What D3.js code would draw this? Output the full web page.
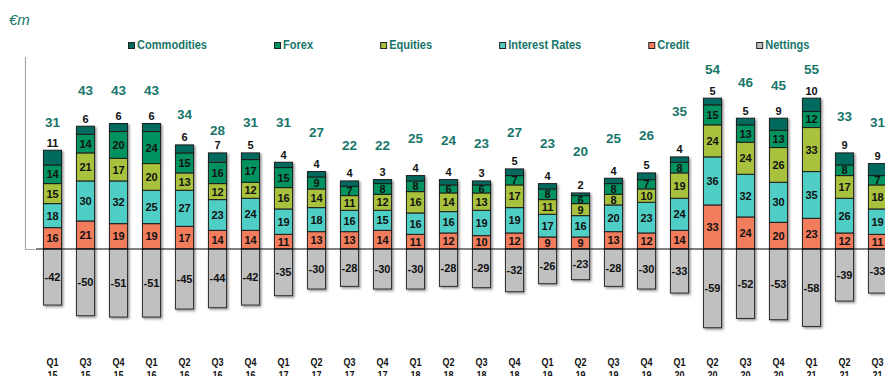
<!DOCTYPE html>
<html>
<head>
<meta charset="utf-8">
<script src="https://cdn.jsdelivr.net/npm/d3@7"></script>
<style>
  body { margin: 0; background: #fff; }
  svg { display: block; }
</style>
</head>
<body>
<svg id="chart" width="885" height="376"></svg>
<script>
// Quarterly trading revenue by asset class, €m
const categories = ["Q1 15","Q3 15","Q4 15","Q1 16","Q2 16","Q3 16","Q4 16","Q1 17","Q2 17","Q3 17","Q4 17","Q1 18","Q2 18","Q3 18","Q4 18","Q1 19","Q2 19","Q3 19","Q4 19","Q1 20","Q2 20","Q3 20","Q4 20","Q1 21","Q2 21","Q3 21"];
const credit        = [16,21,19,19,17,14,14,11,13,13,14,11,12,10,12, 9, 9,13,12,14,33,24,20,23,12,11];
const interestRates = [18,30,32,25,27,23,24,19,18,16,15,16,16,19,19,17,16,20,23,24,36,32,30,35,26,19];
const equities      = [15,21,17,20,13,12,12,16,14,11,12,16,14,13,17,11, 9, 8,10,19,24,24,26,33,17,18];
const forex         = [14,14,20,24,15,16,17,15, 9, 7, 8, 8, 6, 6, 7, 8, 6, 8, 7, 8,15,13,13,12, 8, 7];
const commodities   = [11, 6, 6, 6, 6, 7, 5, 4, 4, 4, 3, 4, 4, 3, 5, 4, 2, 4, 5, 4, 5, 5, 9,10, 9, 9];
const nettings      = [-42,-50,-51,-51,-45,-44,-42,-35,-30,-28,-30,-30,-28,-29,-32,-26,-23,-28,-30,-33,-59,-52,-53,-58,-39,-33];
const totals        = [31,43,43,43,34,28,31,31,27,22,22,25,24,23,27,23,20,25,26,35,54,46,45,55,33,31];

const seriesKeys = ["Credit","Interest Rates","Equities","Forex","Commodities"];
const legendKeys = ["Commodities","Forex","Equities","Interest Rates","Credit","Nettings"];

const colors = {
  "Commodities": "#006b5e",
  "Forex": "#00935f",
  "Equities": "#a8c23e",
  "Interest Rates": "#50cec5",
  "Credit": "#f27d5d",
  "Nettings": "#c0c0c0"
};
const teal = "#17766a";

const narrow = '"Liberation Sans Narrow","Arial Narrow",sans-serif';
const sans = '"Liberation Sans",Arial,Helvetica,sans-serif';

const svg = d3.select("#chart");

// If no condensed face is installed, squeeze the regular bold face instead.
const probe = svg.append("g").attr("font-weight", "bold").attr("font-size", 20);
const wN = probe.append("text").attr("font-family", narrow).text("Commodities").node().getComputedTextLength();
const wS = probe.append("text").attr("font-family", sans).text("Commodities").node().getComputedTextLength();
probe.remove();
const squeeze = wN / wS > 0.95 ? 0.82 : 1;

function condensedText(parent, px, py, str, size, fill) {
  const t = parent.append("text")
    .attr("transform", `translate(${px},${py}) scale(${squeeze},1)`)
    .attr("font-family", squeeze === 1 ? narrow : sans)
    .attr("font-weight", "bold").attr("font-size", size)
    .attr("fill", fill).text(str);
  return t;
}

// soft drop shadow under each stack
const defs = svg.append("defs");
const f = defs.append("filter").attr("id","shadow")
  .attr("x","-30%").attr("y","-10%").attr("width","160%").attr("height","120%");
f.append("feDropShadow").attr("dx",1.5).attr("dy",1.5).attr("stdDeviation",0.9)
  .attr("flood-color","#6f6f6f").attr("flood-opacity",0.75);

const rows = categories.map((c, i) => ({
  cat: c,
  "Credit": credit[i],
  "Interest Rates": interestRates[i],
  "Equities": equities[i],
  "Forex": forex[i],
  "Commodities": commodities[i],
  "Nettings": nettings[i],
  total: totals[i]
}));

const x = d3.scaleBand().domain(categories).range([36, 894])
  .paddingInner(0.45).paddingOuter(0.225);
const y = d3.scaleLinear().domain([-75, 144]).range([349.1, 56.8]);
// secondary scale carrying the net totals
const y2 = d3.scaleLinear().domain([-56, 56]).range([351, 56]);

const stacked = d3.stack().keys(seriesKeys)(rows);

// "€m" unit label
svg.append("text").attr("x", 9).attr("y", 25)
  .attr("font-family", sans).attr("font-style","italic").attr("font-size", 15)
  .attr("fill", teal).text("€m");

// legend
const legend = svg.append("g");
let lx = 128;
legendKeys.forEach(k => {
  const g = legend.append("g");
  g.append("rect").attr("x", lx + 0.5).attr("y", 42.5).attr("width", 6).attr("height", 6)
    .attr("fill", colors[k]).attr("stroke", "#222").attr("stroke-width", 1);
  const t = condensedText(g, lx + 9, 49, k, 13.5, teal);
  lx += 9 + t.node().getComputedTextLength() * squeeze + 67;
});

// left axis bracket
svg.append("path").attr("d", "M25.5,57 V249.5 H35").attr("fill","none")
  .attr("stroke", "#a8a8a8").attr("stroke-width", 1.2);

// bars
const bars = svg.append("g");
rows.forEach((r, i) => {
  const g = bars.append("g").attr("filter", "url(#shadow)");
  const bx = x(r.cat), bw = x.bandwidth();
  stacked.forEach(s => {
    const d = s[i];
    g.append("rect").attr("x", bx).attr("width", bw)
      .attr("y", y(d[1])).attr("height", y(d[0]) - y(d[1]))
      .attr("fill", colors[s.key]).attr("stroke", "#1c1c1c").attr("stroke-width", 1);
  });
  g.append("rect").attr("x", bx).attr("width", bw)
    .attr("y", y(0)).attr("height", y(r["Nettings"]) - y(0))
    .attr("fill", colors["Nettings"]).attr("stroke", "#2a2a2a").attr("stroke-width", 1);
});

// zero line
svg.append("line").attr("x1", 36).attr("x2", 885).attr("y1", y(0)).attr("y2", y(0))
  .attr("stroke", "#000").attr("stroke-width", 1.2);

// segment value labels
const labels = svg.append("g").attr("font-family", sans).attr("font-weight", "bold")
  .attr("font-size", 11).attr("fill", "#111").attr("text-anchor", "middle");
rows.forEach((r, i) => {
  const cx = x(r.cat) + x.bandwidth() / 2;
  stacked.forEach(s => {
    const d = s[i];
    let cy;
    if (s.key === "Commodities") cy = y(d[1]) - 7.5;
    else cy = (y(d[0]) + y(d[1])) / 2;
    labels.append("text").attr("x", cx).attr("y", cy).attr("dy", "0.36em").text(r[s.key]);
  });
  labels.append("text").attr("x", cx).attr("y", (y(0) + y(r["Nettings"])) / 2)
    .attr("dy", "0.36em").text(r["Nettings"]);
});

// net totals
const tot = svg.append("g").attr("font-family", sans).attr("font-weight", "bold")
  .attr("font-size", 13.5).attr("fill", teal).attr("text-anchor", "middle");
rows.forEach(r => {
  const cx = x(r.cat) + x.bandwidth() / 2;
  const cy = Math.max(y2(r.total), 69.5);
  tot.append("text").attr("x", cx).attr("y", cy).attr("dy", "0.36em").text(r.total);
});

// category axis labels (quarter / year)
const cat = svg.append("g").attr("text-anchor", "middle");
categories.forEach(c => {
  const [q, yr] = c.split(" ");
  const cx = x(c) + x.bandwidth() / 2;
  condensedText(cat, cx, 365.5, q, 11, "#111");
  condensedText(cat, cx, 378.5, yr, 11, "#111");
});
</script>
</body>
</html>
